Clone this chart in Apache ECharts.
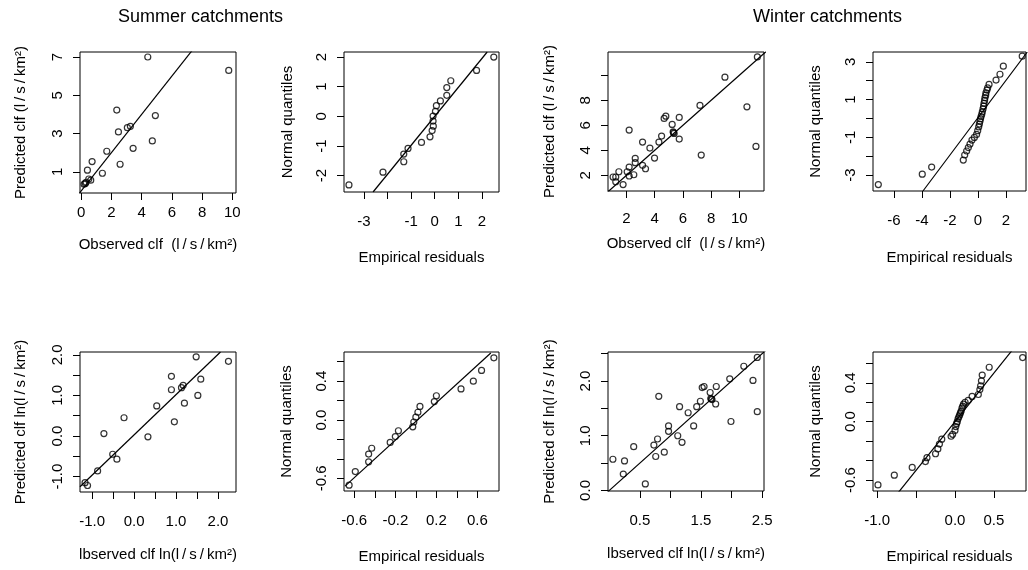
<!DOCTYPE html>
<html>
<head>
<meta charset="utf-8">
<title>Summer and winter catchments</title>
<script src="https://cdn.jsdelivr.net/npm/echarts@6.0.0/dist/echarts.min.js"></script>
<style>
  html, body { margin: 0; padding: 0; background: #fff; }
  #chart { width: 1028px; height: 570px; }
</style>
</head>
<body>
<div id="chart"></div>
<script>
// summer catchments, observed vs predicted clf (l/s/km2)
const sumObs  = [4.41, 9.76, 2.36, 4.91, 2.47, 3.06, 3.26, 4.71, 3.44, 1.70, 0.73, 0.42, 2.58, 1.41, 0.51, 0.64, 0.33, 0.20, 0.28]
const sumPred = [7.00, 6.30, 4.23, 3.94, 3.09, 3.31, 3.38, 2.62, 2.23, 2.08, 1.54, 1.09, 1.40, 0.93, 0.63, 0.57, 0.46, 0.36, 0.40]
// summer residual QQ
const sumResid = [-3.63, -2.19, -1.31, -1.31, -1.13, -0.56, -0.20, -0.11, -0.06, -0.07, -0.07, 0.03, 0.07, 0.24, 0.51, 0.51, 0.68, 1.77, 2.50]
const sumQuant = [-2.31, -1.88, -1.53, -1.27, -1.08, -0.88, -0.69, -0.48, -0.33, -0.16, 0.01, 0.17, 0.36, 0.52, 0.71, 0.97, 1.20, 1.55, 2.00]
// winter catchments, observed vs predicted clf
const winObs  = [11.28, 8.98, 7.21, 10.54, 11.18, 7.30, 2.19, 4.79, 4.67, 5.74, 5.24, 4.49, 5.31, 5.38, 5.74, 4.30, 3.14, 3.66, 3.99, 2.62, 2.62, 3.14, 3.35, 2.19, 2.05, 1.46, 2.52, 2.19, 1.05, 1.24, 1.24, 1.76, 5.33]
const winPred = [11.47, 9.85, 7.59, 7.48, 4.31, 3.62, 5.62, 6.73, 6.55, 6.63, 6.07, 5.14, 5.48, 5.35, 4.90, 4.66, 4.66, 4.18, 3.38, 3.36, 3.01, 2.80, 2.53, 2.66, 2.29, 2.29, 2.05, 1.95, 1.87, 1.87, 1.49, 1.26, 5.42]
// winter residual QQ
const winResid = [-7.12, -3.98, -3.31, -1.05, -0.95, -0.81, -0.69, -0.57, -0.43, -0.26, -0.10, -0.02, 0.05, 0.10, 0.14, 0.18, 0.22, 0.27, 0.31, 0.36, 0.40, 0.43, 0.47, 0.50, 0.55, 0.57, 0.64, 0.69, 0.79, 1.29, 1.57, 1.81, 3.16]
const winQuant = [-3.51, -2.96, -2.58, -2.21, -1.94, -1.73, -1.55, -1.36, -1.15, -1.01, -0.85, -0.65, -0.45, -0.30, -0.15, -0.02, 0.10, 0.22, 0.35, 0.50, 0.65, 0.80, 0.95, 1.10, 1.23, 1.36, 1.50, 1.62, 1.80, 2.03, 2.34, 2.77, 3.30]
// summer, log scale
const sumLnObs  = [-1.17, -1.11, -0.87, -0.72, -0.51, -0.41, -0.24, 0.33, 0.54, 0.89, 0.89, 0.96, 1.13, 1.17, 1.20, 1.48, 1.52, 1.59, 2.25]
const sumLnPred = [-1.15, -1.22, -0.86, 0.06, -0.45, -0.57, 0.45, -0.02, 0.74, 1.47, 1.14, 0.35, 1.19, 1.25, 0.81, 1.95, 1.00, 1.40, 1.84]
const sumLnResid = [-0.65, -0.59, -0.46, -0.46, -0.43, -0.25, -0.20, -0.17, -0.03, -0.02, 0.00, 0.02, 0.04, 0.18, 0.20, 0.44, 0.56, 0.64, 0.76]
const sumLnQuant = [-0.67, -0.53, -0.43, -0.35, -0.29, -0.23, -0.17, -0.11, -0.07, -0.02, 0.03, 0.08, 0.14, 0.19, 0.25, 0.32, 0.40, 0.51, 0.64]
// winter, log scale
const winLnObs  = [0.06, 0.25, 0.23, 0.40, 0.59, 0.73, 0.76, 0.79, 0.81, 0.90, 0.97, 0.97, 1.12, 1.15, 1.19, 1.29, 1.38, 1.43, 1.49, 1.52, 1.55, 1.65, 1.67, 1.66, 1.68, 1.75, 1.74, 1.97, 1.99, 2.20, 2.35, 2.42, 2.42]
const winLnPred = [0.57, 0.54, 0.30, 0.80, 0.12, 0.83, 0.62, 0.94, 1.72, 0.70, 1.08, 1.18, 1.00, 1.53, 0.88, 1.42, 1.18, 1.53, 1.63, 1.88, 1.90, 1.79, 1.67, 1.68, 1.66, 1.90, 1.58, 2.04, 1.26, 2.27, 2.01, 2.43, 1.44]
const winLnResid = [-0.99, -0.78, -0.55, -0.38, -0.36, -0.25, -0.22, -0.20, -0.17, -0.05, -0.03, 0.00, 0.01, 0.02, 0.03, 0.04, 0.05, 0.06, 0.07, 0.08, 0.09, 0.10, 0.11, 0.13, 0.17, 0.22, 0.30, 0.32, 0.33, 0.34, 0.35, 0.44, 0.87]
const winLnQuant = [-0.65, -0.55, -0.47, -0.41, -0.37, -0.33, -0.28, -0.23, -0.18, -0.15, -0.13, -0.09, -0.05, -0.02, 0.00, 0.03, 0.05, 0.07, 0.09, 0.11, 0.14, 0.16, 0.18, 0.20, 0.22, 0.26, 0.28, 0.33, 0.37, 0.42, 0.48, 0.56, 0.66]

// reference lines (end points)
const sumLine   = [[-1, -1], [11, 11]]
const sumQQLine = [[-2.61, -2.55], [2.22, 2.17]]
const winLine   = [[0, 0], [13, 13]]
const winQQLine = [[-3.93, -3.85], [3.52, 3.52]]
const sumLnLine   = [[-1.29, -1.25], [2.06, 2.07]]
const sumLnQQLine = [[-0.69, -0.68], [0.73, 0.69]]
const winLnLine   = [[-0.1, -0.1], [2.7, 2.7]]
const winLnQQLine = [[-0.75, -0.75], [0.75, 0.75]]

// ticks and labels
const p1XTicks = [0, 2, 4, 6, 8, 10]
const p1YTicks = [1, 3, 5, 7]
const p2XTicks = [-3, -2, -1, 0, 1, 2]
const p2XLabels = [-3, -1, 0, 1, 2]
const p2YTicks = [-2, -1, 0, 1, 2]
const p3XTicks = [2, 4, 6, 8, 10]
const p3YTicks = [2, 4, 6, 8, 10]
const p3YLabels = [2, 4, 6, 8]
const p4XTicks = [-6, -4, -2, 0, 2]
const p4YTicks = [-3, -2, -1, 0, 1, 2, 3]
const p4YLabels = [-3, -1, 1, 3]
const p5Ticks = [-1, -0.5, 0, 0.5, 1, 1.5, 2]
const p5Labels = [-1, 0, 1, 2]
const p6Ticks = [-0.6, -0.4, -0.2, 0, 0.2, 0.4, 0.6]
const p6XLabels = [-0.6, -0.2, 0.2, 0.6]
const p6YLabels = [-0.6, 0, 0.4]
const p7XTicks = [0.5, 1, 1.5, 2, 2.5]
const p7XLabels = [0.5, 1.5, 2.5]
const p7YTicks = [0, 0.5, 1, 1.5, 2, 2.5]
const p7YLabels = [0, 1, 2]
const p8XTicks = [-1, -0.5, 0, 0.5]
const p8XLabels = [-1, 0, 0.5]

const unit = 'l\u2009/\u2009s\u2009/\u2009km\u00b2'
const FONT = 'Liberation Sans, Arial, sans-serif'

const panels = [
  { box: [80, 52, 156, 141], x: sumObs, y: sumPred, line: sumLine,
    xr: [-0.07, 10.24], yr: [-0.10, 7.26], xt: p1XTicks, xl: p1XTicks, yt: p1YTicks, yl: p1YTicks, dig: 0,
    xn: 'Observed clf  (' + unit + ')', yn: 'Predicted clf (' + unit + ')', xg: 44, yg: 52, xm: 12 },
  { box: [344, 52, 155, 140], x: sumResid, y: sumQuant, line: sumQQLine,
    xr: [-3.84, 2.72], yr: [-2.55, 2.17], xt: p2XTicks, xl: p2XLabels, yt: p2YTicks, yl: p2YTicks, dig: 0,
    xn: 'Empirical residuals', yn: 'Normal quantiles', xg: 58, yg: 49, xm: 22 },
  { box: [608, 52, 156, 139], x: winObs, y: winPred, line: winLine,
    xr: [0.69, 11.75], yr: [0.75, 11.86], xt: p3XTicks, xl: p3XTicks, yt: p3YTicks, yl: p3YLabels, dig: 0,
    xn: 'Observed clf  (' + unit + ')', yn: 'Predicted clf (' + unit + ')', xg: 45, yg: 51, xm: 20 },
  { box: [873, 52, 153, 139], x: winResid, y: winQuant, line: winQQLine,
    xr: [-7.5, 3.43], yr: [-3.85, 3.52], xt: p4XTicks, xl: p4XTicks, yt: p4YTicks, yl: p4YLabels, dig: 0,
    xn: 'Empirical residuals', yn: 'Normal quantiles', xg: 59, yg: 50, xm: 22 },
  { box: [80, 352, 156, 140], x: sumLnObs, y: sumLnPred, line: sumLnLine,
    xr: [-1.29, 2.43], yr: [-1.38, 2.07], xt: p5Ticks, xl: p5Labels, yt: p5Ticks, yl: p5Labels, dig: 1,
    xn: 'lbserved clf ln(' + unit + ')', yn: 'Predicted clf ln(' + unit + ')', xg: 55, yg: 52, xm: 22 },
  { box: [344, 352, 155, 139], x: sumLnResid, y: sumLnQuant, line: sumLnQQLine,
    xr: [-0.70, 0.81], yr: [-0.73, 0.70], xt: p6Ticks, xl: p6XLabels, yt: p6Ticks, yl: p6YLabels, dig: 1,
    xn: 'Empirical residuals', yn: 'Normal quantiles', xg: 58, yg: 50, xm: 22 },
  { box: [608, 352, 156, 139], x: winLnObs, y: winLnPred, line: winLnLine,
    xr: [-0.02, 2.53], yr: [-0.01, 2.53], xt: p7XTicks, xl: p7XLabels, yt: p7YTicks, yl: p7YLabels, dig: 1,
    xn: 'lbserved clf ln(' + unit + ')', yn: 'Predicted clf ln(' + unit + ')', xg: 55, yg: 51, xm: 22 },
  { box: [873, 352, 153, 139], x: winLnResid, y: winLnQuant, line: winLnQQLine,
    xr: [-1.054, 0.913], yr: [-0.713, 0.717], xt: p8XTicks, xl: p8XLabels, yt: p6Ticks, yl: p6YLabels, dig: 1,
    xn: 'Empirical residuals', yn: 'Normal quantiles', xg: 58, yg: 50, xm: 22 }
]

const textStyle = { color: '#000', fontFamily: FONT, fontSize: 15 }

const grid = [], xAxis = [], yAxis = [], series = []
panels.forEach((p, i) => {
  grid.push({
    left: p.box[0], top: p.box[1], width: p.box[2], height: p.box[3],
    show: true, borderColor: '#000', borderWidth: 1, backgroundColor: 'transparent'
  })
  const fmt = v => Number(v).toFixed(p.dig)
  xAxis.push({
    type: 'value', gridIndex: i, min: p.xr[0], max: p.xr[1],
    axisLine: { show: false, onZero: false },
    axisTick: { show: true, length: 7, customValues: p.xt, lineStyle: { color: '#000' } },
    axisLabel: Object.assign({ customValues: p.xl, margin: p.xm, formatter: fmt, hideOverlap: false }, textStyle),
    splitLine: { show: false },
    name: p.xn, nameLocation: 'middle', nameGap: p.xg, nameTextStyle: textStyle
  })
  yAxis.push({
    type: 'value', gridIndex: i, min: p.yr[0], max: p.yr[1],
    axisLine: { show: false, onZero: false },
    axisTick: { show: true, length: 7, customValues: p.yt, lineStyle: { color: '#000' } },
    axisLabel: Object.assign({ customValues: p.yl, margin: 15, rotate: 90, formatter: fmt, hideOverlap: false }, textStyle),
    splitLine: { show: false },
    name: p.yn, nameLocation: 'middle', nameGap: p.yg, nameTextStyle: textStyle
  })
  series.push({
    type: 'scatter', xAxisIndex: i, yAxisIndex: i,
    data: p.x.map((v, k) => [v, p.y[k]]),
    symbol: 'circle', symbolSize: 6,
    itemStyle: { color: 'rgba(0,0,0,0)', borderColor: '#000', borderWidth: 1.2 },
    silent: true
  })
  series.push({
    type: 'line', xAxisIndex: i, yAxisIndex: i,
    data: p.line, symbol: 'none', clip: true, silent: true,
    lineStyle: { color: '#000', width: 1.2 }
  })
})

const chart = echarts.init(document.getElementById('chart'), null, { renderer: 'canvas' })
chart.setOption({
  animation: false,
  backgroundColor: '#fff',
  title: [
    { text: 'Summer catchments', left: 118, top: 8, padding: 0, textStyle: { color: '#000', fontFamily: FONT, fontSize: 18, fontWeight: 'normal' } },
    { text: 'Winter catchments', left: 753, top: 8, padding: 0, textStyle: { color: '#000', fontFamily: FONT, fontSize: 18, fontWeight: 'normal' } }
  ],
  grid: grid,
  xAxis: xAxis,
  yAxis: yAxis,
  series: series
})
</script>
</body>
</html>
